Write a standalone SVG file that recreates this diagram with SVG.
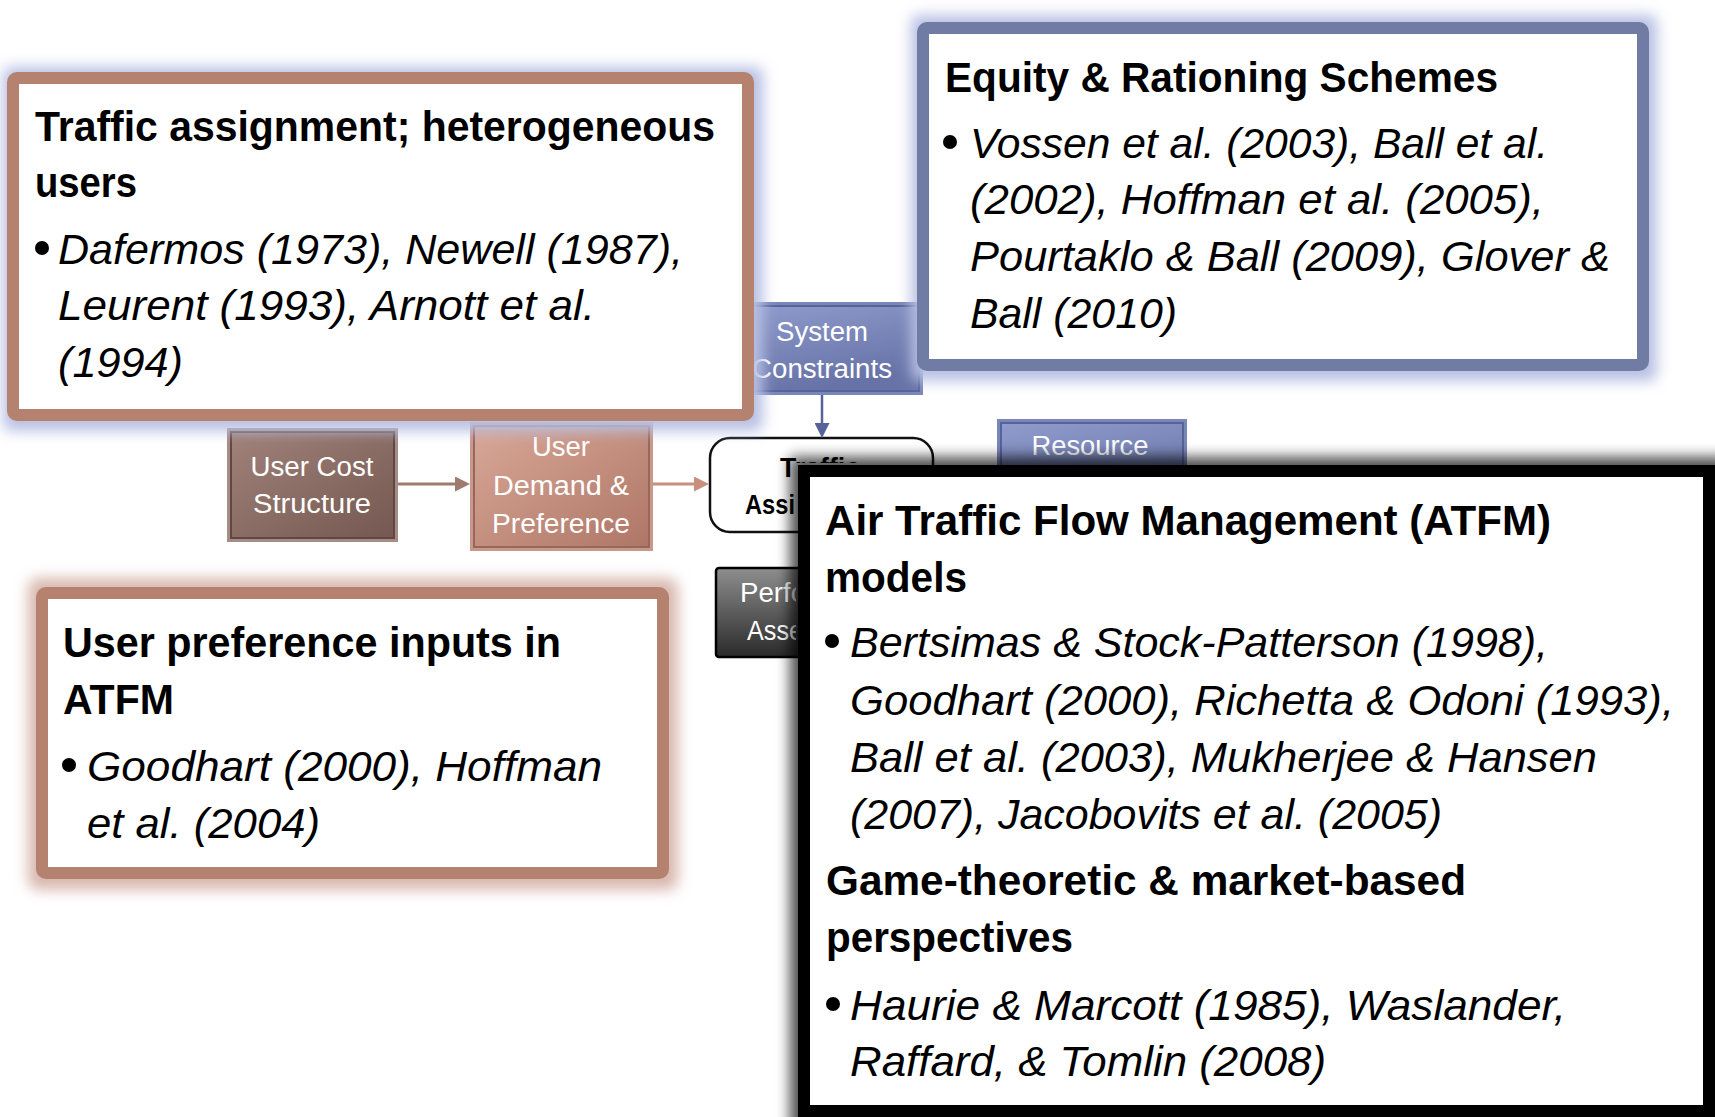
<svg xmlns="http://www.w3.org/2000/svg" width="1715" height="1117" viewBox="0 0 1715 1117">
<style>
text{font-family:"Liberation Sans",Arial,sans-serif}
.h{font-size:42px;font-weight:bold;fill:#000}
.it{font-size:42px;font-style:italic;fill:#000}
.nw{font-size:27px;fill:#fff;text-anchor:middle}
.nws{font-size:27px;fill:#fff}
.nb{font-size:28px;font-weight:bold;fill:#000;text-anchor:middle}
.nbs{font-size:28px;font-weight:bold;fill:#000}
.blt{fill:#000}
.callout{fill:#fff;stroke-width:12}
.brownB{stroke:#B5826F}
.blueB{stroke:#707CA3}
.blackB{stroke:#000}
</style>
<defs>
<linearGradient id="gBrown" x1="0" y1="0" x2="1" y2="1"><stop offset="0" stop-color="#A08279"/><stop offset="1" stop-color="#745851"/></linearGradient>
<linearGradient id="gRose" x1="0" y1="0" x2="1" y2="1"><stop offset="0" stop-color="#D9A898"/><stop offset="1" stop-color="#AE7666"/></linearGradient>
<linearGradient id="gBlue" x1="0" y1="0" x2="0.4" y2="1"><stop offset="0" stop-color="#909CCC"/><stop offset="1" stop-color="#6773A7"/></linearGradient>
<linearGradient id="gGray" x1="0" y1="0" x2="0" y2="1"><stop offset="0" stop-color="#8E8E8E"/><stop offset="1" stop-color="#2A2A2A"/></linearGradient>
<filter id="glow" x="-10%" y="-20%" width="120%" height="140%"><feGaussianBlur stdDeviation="7"/></filter>
<filter id="shadow" x="-10%" y="-10%" width="120%" height="120%"><feGaussianBlur stdDeviation="7"/></filter>
<clipPath id="outsideAtfm" clipPathUnits="userSpaceOnUse"><path d="M0,0 H1715 V463 H796 V1117 H0 Z"/></clipPath>
<marker id="aBrown" viewBox="0 0 10 10" refX="1" refY="5" markerWidth="15" markerHeight="15" markerUnits="userSpaceOnUse" orient="auto"><path d="M0,0 L10,5 L0,10 z" fill="#9E7A6F"/></marker>
<marker id="aRose" viewBox="0 0 10 10" refX="1" refY="5" markerWidth="15" markerHeight="15" markerUnits="userSpaceOnUse" orient="auto"><path d="M0,0 L10,5 L0,10 z" fill="#C88F7C"/></marker>
<marker id="aBlue" viewBox="0 0 10 10" refX="1" refY="5" markerWidth="15" markerHeight="15" markerUnits="userSpaceOnUse" orient="auto"><path d="M0,0 L10,5 L0,10 z" fill="#56639A"/></marker>
</defs>
<rect x="0" y="0" width="1715" height="1117" fill="#fff"/>

<!-- underlying diagram nodes -->
<g id="system-constraints">
<rect x="721" y="302" width="202" height="93" fill="#7986B8"/>
<rect x="725" y="306" width="194" height="85" fill="url(#gBlue)" stroke="#56639A" stroke-width="2"/>
<text class="nw" x="822" y="341" textLength="92" lengthAdjust="spacingAndGlyphs">System</text>
<text class="nw" x="822" y="378" textLength="140" lengthAdjust="spacingAndGlyphs">Constraints</text>
</g>
<g id="resource">
<rect x="997" y="419" width="190" height="95" fill="#7986B8"/>
<rect x="1001" y="423" width="182" height="87" fill="url(#gBlue)" stroke="#56639A" stroke-width="2"/>
<text class="nw" x="1090" y="455" textLength="117" lengthAdjust="spacingAndGlyphs">Resource</text>
</g>
<g id="performance-assessment">
<rect x="716" y="568" width="196" height="89" rx="3" fill="url(#gGray)" stroke="#000" stroke-width="2.5"/>
<g clip-path="url(#outsideAtfm)">
<text class="nws" x="740" y="602" textLength="66" lengthAdjust="spacingAndGlyphs">Perfo</text>
<text class="nws" x="747" y="640" textLength="56" lengthAdjust="spacingAndGlyphs">Asse</text>
</g>
</g>
<g id="user-cost-structure">
<rect x="227" y="428" width="171" height="114" fill="#A58C84"/>
<rect x="231" y="432" width="163" height="106" fill="url(#gBrown)" stroke="#5F4842" stroke-width="2"/>
<text class="nw" x="312" y="476" textLength="123" lengthAdjust="spacingAndGlyphs">User Cost</text>
<text class="nw" x="312" y="513" textLength="118" lengthAdjust="spacingAndGlyphs">Structure</text>
</g>
<g id="user-demand-preference">
<rect x="470" y="422" width="183" height="129" fill="#C8988A"/>
<rect x="474" y="426" width="175" height="121" fill="url(#gRose)" stroke="#95685B" stroke-width="2"/>
<text class="nw" x="561" y="456" textLength="58" lengthAdjust="spacingAndGlyphs">User</text>
<text class="nw" x="561" y="495" textLength="136" lengthAdjust="spacingAndGlyphs">Demand &amp;</text>
<text class="nw" x="561" y="533" textLength="138" lengthAdjust="spacingAndGlyphs">Preference</text>
</g>
<g id="traffic-assignment">
<rect x="710" y="438" width="223" height="94" rx="20" fill="#fff" stroke="#111" stroke-width="2.5"/>
<g clip-path="url(#outsideAtfm)">
<text class="nb" x="820" y="477" textLength="80" lengthAdjust="spacingAndGlyphs">Traffic</text>
<text class="nbs" x="745" y="514" textLength="50" lengthAdjust="spacingAndGlyphs">Assi</text>
</g>
</g>

<g id="connectors" fill="none" stroke-width="3">
<line x1="398" y1="484" x2="456.5" y2="484" stroke="#9E7A6F" marker-end="url(#aBrown)"/>
<line x1="653" y1="484" x2="695.5" y2="484" stroke="#C88F7C" marker-end="url(#aRose)"/>
<line x1="822" y1="395" x2="822" y2="424.5" stroke="#56639A" stroke-width="2.5" marker-end="url(#aBlue)"/>
</g>

<!-- callout: traffic assignment -->
<g id="callout-traffic-assignment">
<rect x="3" y="67" width="760" height="364" rx="8" fill="#B8C0E3" filter="url(#glow)"/>
<rect class="callout brownB" x="13" y="78" width="735" height="337" rx="4"/>
<text class="h" x="35" y="141" textLength="680" lengthAdjust="spacingAndGlyphs">Traffic assignment; heterogeneous</text>
<text class="h" x="35" y="197" textLength="102" lengthAdjust="spacingAndGlyphs">users</text>
<circle class="blt" cx="42" cy="248" r="7"/>
<text class="it" x="58" y="264" textLength="625" lengthAdjust="spacingAndGlyphs">Dafermos (1973), Newell (1987),</text>
<text class="it" x="58" y="320" textLength="537" lengthAdjust="spacingAndGlyphs">Leurent (1993), Arnott et al.</text>
<text class="it" x="58" y="377" textLength="125" lengthAdjust="spacingAndGlyphs">(1994)</text>
</g>

<!-- callout: equity -->
<g id="callout-equity">
<rect x="911" y="15" width="746" height="366" rx="8" fill="#B8C0E3" filter="url(#glow)"/>
<rect class="callout blueB" x="923" y="28" width="720" height="337" rx="4"/>
<text class="h" x="945" y="92" textLength="553" lengthAdjust="spacingAndGlyphs">Equity &amp; Rationing Schemes</text>
<circle class="blt" cx="950" cy="142" r="7"/>
<text class="it" x="970" y="158" textLength="578" lengthAdjust="spacingAndGlyphs">Vossen et al. (2003), Ball et al.</text>
<text class="it" x="970" y="214" textLength="574" lengthAdjust="spacingAndGlyphs">(2002), Hoffman et al. (2005),</text>
<text class="it" x="970" y="271" textLength="640" lengthAdjust="spacingAndGlyphs">Pourtaklo &amp; Ball (2009), Glover &amp;</text>
<text class="it" x="970" y="328" textLength="207" lengthAdjust="spacingAndGlyphs">Ball (2010)</text>
</g>

<!-- callout: user preference -->
<g id="callout-user-preference">
<rect x="28" y="578" width="650" height="312" rx="10" fill="#D8B8AE" filter="url(#glow)"/>
<rect class="callout brownB" x="42" y="593" width="621" height="280" rx="4"/>
<text class="h" x="63" y="657" textLength="498" lengthAdjust="spacingAndGlyphs">User preference inputs in</text>
<text class="h" x="63" y="714" textLength="111" lengthAdjust="spacingAndGlyphs">ATFM</text>
<circle class="blt" cx="69" cy="765" r="7"/>
<text class="it" x="87" y="781" textLength="515" lengthAdjust="spacingAndGlyphs">Goodhart (2000), Hoffman</text>
<text class="it" x="87" y="838" textLength="233" lengthAdjust="spacingAndGlyphs">et al. (2004)</text>
</g>

<!-- callout: ATFM -->
<g id="callout-atfm">
<rect x="790" y="457" width="940" height="680" fill="#000" opacity="0.7" filter="url(#shadow)"/>
<rect class="callout blackB" x="804" y="471" width="905" height="640"/>
<text class="h" x="825" y="535" textLength="726" lengthAdjust="spacingAndGlyphs">Air Traffic Flow Management (ATFM)</text>
<text class="h" x="825" y="592" textLength="142" lengthAdjust="spacingAndGlyphs">models</text>
<circle class="blt" cx="832" cy="641" r="7"/>
<text class="it" x="850" y="657" textLength="698" lengthAdjust="spacingAndGlyphs">Bertsimas &amp; Stock-Patterson (1998),</text>
<text class="it" x="850" y="715" textLength="824" lengthAdjust="spacingAndGlyphs">Goodhart (2000), Richetta &amp; Odoni (1993),</text>
<text class="it" x="850" y="772" textLength="747" lengthAdjust="spacingAndGlyphs">Ball et al. (2003), Mukherjee &amp; Hansen</text>
<text class="it" x="850" y="829" textLength="592" lengthAdjust="spacingAndGlyphs">(2007), Jacobovits et al. (2005)</text>
<text class="h" x="826" y="895" textLength="640" lengthAdjust="spacingAndGlyphs">Game-theoretic &amp; market-based</text>
<text class="h" x="826" y="952" textLength="247" lengthAdjust="spacingAndGlyphs">perspectives</text>
<circle class="blt" cx="833" cy="1004" r="7"/>
<text class="it" x="850" y="1020" textLength="716" lengthAdjust="spacingAndGlyphs">Haurie &amp; Marcott (1985), Waslander,</text>
<text class="it" x="850" y="1076" textLength="476" lengthAdjust="spacingAndGlyphs">Raffard, &amp; Tomlin (2008)</text>
</g>
</svg>
